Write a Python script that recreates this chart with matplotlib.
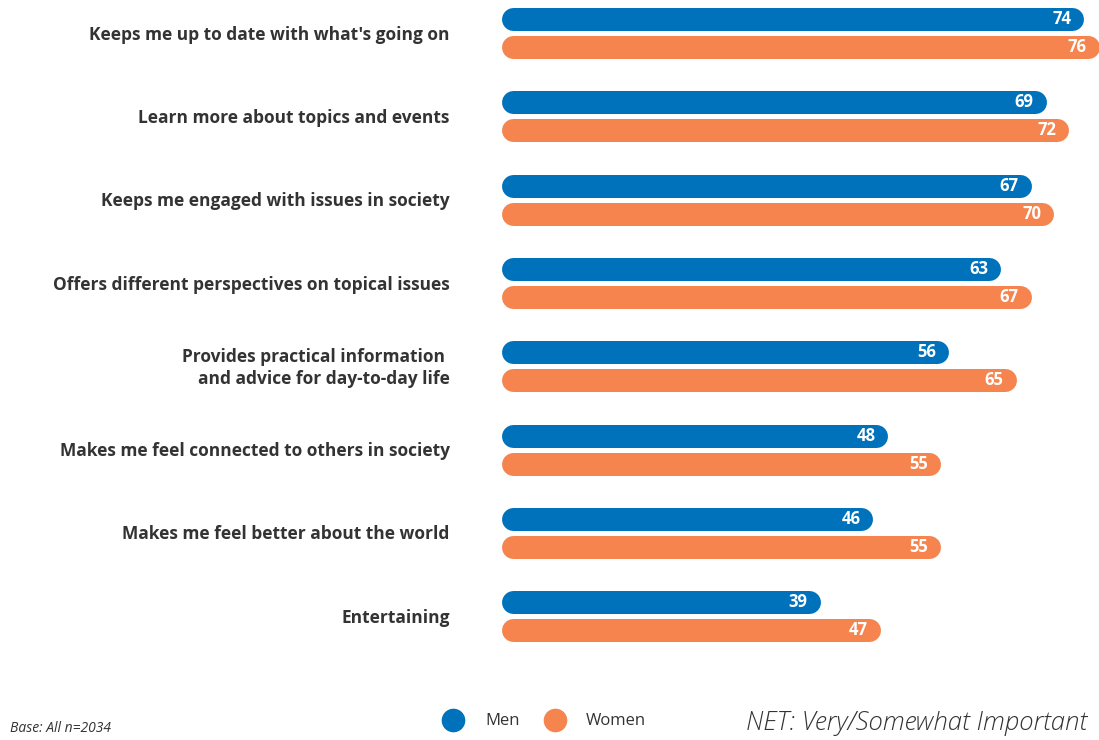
import matplotlib
matplotlib.use("Agg")
import matplotlib.pyplot as plt
from matplotlib.lines import Line2D

categories = [
    "Keeps me up to date with what's going on",
    "Learn more about topics and events",
    "Keeps me engaged with issues in society",
    "Offers different perspectives on topical issues",
    "Provides practical information \nand advice for day-to-day life",
    "Makes me feel connected to others in society",
    "Makes me feel better about the world",
    "Entertaining",
]
men = [74, 69, 67, 63, 56, 48, 46, 39]
women = [76, 72, 70, 67, 65, 55, 55, 47]
series_names = ["Men", "Women"]

BLUE = "#0072BC"
ORANGE = "#F5844F"
TEXT = "#333333"
FONT = "Open Sans"

W, H, DPI = 1099, 740, 100
fig = plt.figure(figsize=(W / DPI, H / DPI), dpi=DPI)
ax = fig.add_axes([0, 0, 1, 1])
ax.set_xlim(-69.76, 76.0)
ax.set_ylim(8.487, -0.396)
ax.axis("off")

px_per_unit = W / (76.0 + 69.76)
bar_h_px = 23
lw_pt = bar_h_px * 72 / DPI
cap = (bar_h_px / 2) / px_per_unit  # round cap length in data units
start_pad = 24 / px_per_unit         # bars begin a little left of zero
offset = 0.168

for i, cat in enumerate(categories):
    for vals, col, dy in ((men, BLUE, -offset), (women, ORANGE, offset)):
        v = vals[i]
        y = i + dy
        ax.add_line(Line2D([-start_pad + cap, v - cap], [y, y], color=col,
                           lw=lw_pt, solid_capstyle="round"))
        ax.annotate(str(v), (v, y), xytext=(-9, 0), textcoords="offset points",
                    ha="right", va="center", color="white", fontsize=12,
                    fontweight="bold", family=FONT)
    ax.text(-10.1, i + 0.02, cat, ha="right", va="center", fontsize=12.5,
            fontweight="bold", color=TEXT, family=FONT, linespacing=1.3)

# legend
for x_c, x_t, col, name in ((453, 485, BLUE, series_names[0]),
                            (555, 586, ORANGE, series_names[1])):
    fig.add_artist(Line2D([x_c / W], [1 - 720 / H], marker="o", markersize=16,
                          color=col, linestyle="none", transform=fig.transFigure))
    fig.text(x_t / W, 1 - 721 / H, name, ha="left", va="center", fontsize=12,
             color=TEXT, family=FONT)

fig.text(10 / W, 1 - 728 / H, "Base: All n=2034", ha="left", va="center",
         fontsize=10, style="italic", color=TEXT, family=FONT)
fig.text(1087 / W, 1 - 724 / H, "NET: Very/Somewhat Important", ha="right",
         va="center", fontsize=18.5, style="italic", fontweight="light",
         color=TEXT, family=FONT)

fig.savefig("out.png", dpi=DPI)
